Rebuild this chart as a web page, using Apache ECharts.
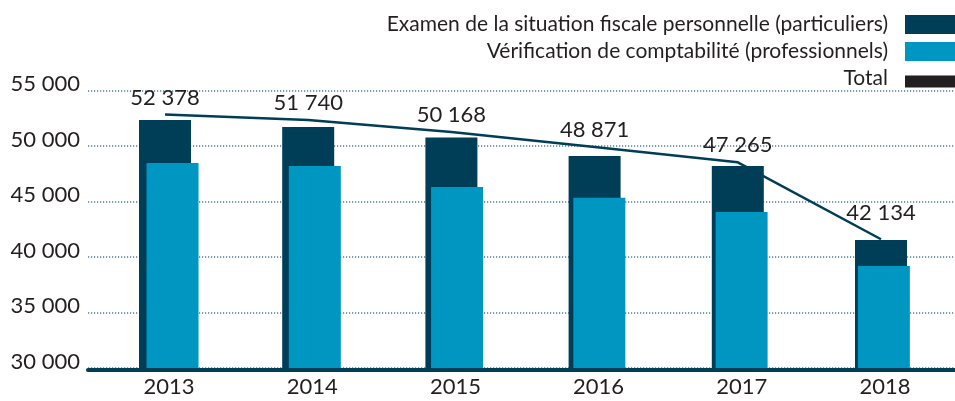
<!DOCTYPE html>
<html>
<head>
<meta charset="utf-8">
<script src="https://cdn.jsdelivr.net/npm/echarts@6/dist/echarts.min.js"></script>
<style>
html,body{margin:0;padding:0;background:#fff;}
#chart{width:955px;height:401px;}
</style>
</head>
<body>
<div id="chart"></div>
<script>
// ---- data ----
const years = ['2013', '2014', '2015', '2016', '2017', '2018'];
// dark bars (as drawn)
const particuliers = [52340, 51710, 50770, 49100, 48200, 41530];
// light bars (as drawn)
const professionnels = [48470, 48200, 46310, 45330, 44050, 39190];
// total line (as drawn)
const totalLine = [52840, 52340, 51260, 49910, 48530, 41600];
// total labels (as printed)
const totalLabels = [52378, 51740, 50168, 48871, 47265, 42134];
const yTicks = {min: 30000, max: 55000, step: 5000};

const NAME1 = 'Examen de la situation fiscale personnelle (particuliers)';
const NAME2 = 'Vérification de comptabilité (professionnels)';
const NAME3 = 'Total';

const DARK = '#003d57';
const LIGHT = '#0096c2';
const INK = '#231f20';
const FONT = 'Lato, "DejaVu Sans", sans-serif';

function fmt(v) { return String(v).replace(/\B(?=(\d{3})+(?!\d))/g, ' '); }

const lineData = totalLine.map((v, i) => (
  i === totalLine.length - 1 ? {value: v, label: {distance: 15}} : v
));

const gTop = 90.5, gBottom = 33;
const chart = echarts.init(document.getElementById('chart'), null, {renderer: 'canvas'});
chart.setOption({
  animation: false,
  textStyle: {fontFamily: FONT},
  legend: {
    orient: 'vertical', right: 0, top: 14, align: 'right', padding: 0,
    itemWidth: 50, itemHeight: 19, itemGap: 6,
    textStyle: {fontSize: 21, color: INK, fontFamily: FONT, padding: [0, 12, 0, 0]},
    data: [
      {name: NAME1, icon: 'rect'},
      {name: NAME2, icon: 'rect'},
      {name: NAME3, icon: 'path://M0,0 L0.01,0 L0.01,0.01 Z M0,6 L50,6 L50,18 L0,18 Z',
       itemStyle: {color: INK, borderWidth: 0}, lineStyle: {width: 0}}
    ]
  },
  grid: [
    {left: 88, right: 0, top: gTop, bottom: gBottom},
    {left: 93.4, width: 859.2, top: gTop, bottom: gBottom},
    {left: 101.4, width: 859.2, top: gTop, bottom: gBottom}
  ],
  xAxis: [
    {gridIndex: 0, type: 'category', data: [''], offset: 2,
     axisLine: {show: true, onZero: false, lineStyle: {color: DARK, width: 4}},
     axisTick: {show: false}, axisLabel: {show: false}, splitLine: {show: false}},
    {gridIndex: 1, type: 'category', data: years,
     axisLine: {show: false}, axisTick: {show: false},
     axisLabel: {fontSize: 22, color: INK, fontFamily: FONT, margin: 8, lineHeight: 22, padding: [0, 0, 0, 8]}},
    {gridIndex: 2, type: 'category', data: years, show: false}
  ],
  yAxis: [
    {gridIndex: 0, type: 'value', min: yTicks.min, max: yTicks.max, interval: yTicks.step,
     axisLine: {show: false}, axisTick: {show: false},
     axisLabel: {fontSize: 22, color: INK, fontFamily: FONT, margin: 8, verticalAlign: 'bottom', lineHeight: 13,
                 formatter: v => fmt(v)},
     splitLine: {show: true, lineStyle: {color: '#4f7f98', width: 1.5, type: [1.2, 1.8]}}},
    {gridIndex: 1, type: 'value', min: yTicks.min, max: yTicks.max, interval: yTicks.step, show: false, splitLine: {show: false}},
    {gridIndex: 2, type: 'value', min: yTicks.min, max: yTicks.max, interval: yTicks.step, show: false, splitLine: {show: false}}
  ],
  series: [
    {name: NAME1, type: 'bar', xAxisIndex: 1, yAxisIndex: 1, barWidth: 52,
     data: particuliers, itemStyle: {color: DARK}},
    {name: NAME2, type: 'bar', xAxisIndex: 2, yAxisIndex: 2, barWidth: 52,
     data: professionnels, itemStyle: {color: LIGHT}},
    {name: NAME3, type: 'line', xAxisIndex: 1, yAxisIndex: 1, data: lineData,
     symbol: 'circle', symbolSize: 0, showSymbol: true,
     lineStyle: {color: DARK, width: 2.5}, itemStyle: {color: DARK},
     label: {show: true, position: 'top', distance: 6, fontSize: 22, color: INK, fontFamily: FONT, lineHeight: 22,
             formatter: p => fmt(totalLabels[p.dataIndex])}}
  ]
});
</script>
</body>
</html>
